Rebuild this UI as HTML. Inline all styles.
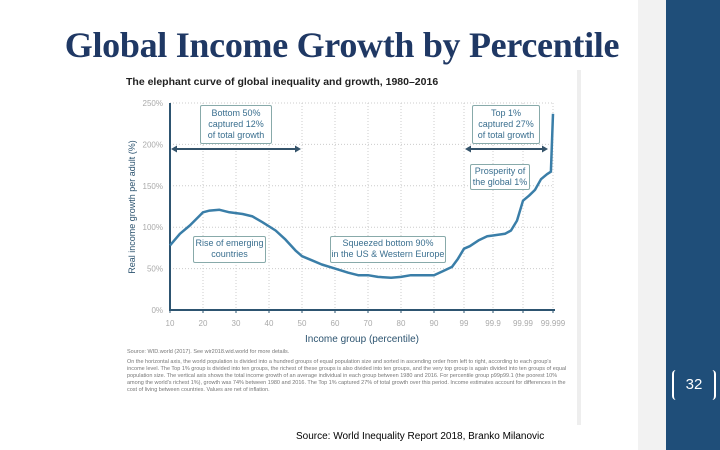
<!DOCTYPE html>
<html><head><meta charset="utf-8"><style>
body{margin:0;width:720px;height:450px;overflow:hidden;background:#fff;font-family:"Liberation Sans",sans-serif;position:relative}
.t{position:absolute;left:0;width:684px;top:24px;text-align:center;font-family:"Liberation Serif",serif;font-weight:bold;font-size:36px;color:#1f3864;letter-spacing:-0.3px}
.box{position:absolute;border:1px solid #8aa;border-radius:2px;font-size:9px;color:#3a6f8f;text-align:center;line-height:11px;background:#fff}
</style></head><body>
<div class="t">Global Income Growth by Percentile</div>
<div style="position:absolute;left:638px;top:0;width:28px;height:450px;background:#f2f2f2"></div>
<div style="position:absolute;left:666px;top:0;width:54px;height:450px;background:#1f4e79"></div>
<div style="position:absolute;left:672px;top:370px;width:44px;height:30px;color:#fff;font-size:15px;text-align:center;line-height:30px;border-left:2px solid #fff;border-right:2px solid #fff;box-sizing:border-box;border-radius:4px">32</div>
<div style="position:absolute;left:120px;top:70px;width:457px;height:355px;background:#fff;box-shadow:4px 0 0 #eee"></div>
<svg id="c" width="720" height="450" style="position:absolute;left:0;top:0"></svg>
<div style="position:absolute;left:126px;top:76px;font-size:10.5px;font-weight:bold;color:#222">The elephant curve of global inequality and growth, 1980–2016</div>
<div class="box" style="left:200px;top:105px;width:70px;height:35px;padding-top:2px">Bottom 50%<br>captured 12%<br>of total growth</div>
<div class="box" style="left:472px;top:105px;width:66px;height:35px;padding-top:2px">Top 1%<br>captured 27%<br>of total growth</div>
<div class="box" style="left:470px;top:164px;width:58px;height:23px;padding-top:1px">Prosperity of<br>the global 1%</div>
<div class="box" style="left:193px;top:236px;width:71px;height:24px;padding-top:1px">Rise of emerging<br>countries</div>
<div class="box" style="left:330px;top:236px;width:114px;height:24px;padding-top:1px">Squeezed bottom 90%<br>in the US &amp; Western Europe</div>
<div style="position:absolute;left:127px;top:349px;width:440px;font-size:5.5px;line-height:7px;color:#777">Source: WID.world (2017). See wir2018.wid.world for more details.<br><span style="display:block;margin-top:3px">On the horizontal axis, the world population is divided into a hundred groups of equal population size and sorted in ascending order from left to right, according to each group's income level. The Top 1% group is divided into ten groups, the richest of these groups is also divided into ten groups, and the very top group is again divided into ten groups of equal population size. The vertical axis shows the total income growth of an average individual in each group between 1980 and 2016. For percentile group p99p99.1 (the poorest 10% among the world's richest 1%), growth was 74% between 1980 and 2016. The Top 1% captured 27% of total growth over this period. Income estimates account for differences in the cost of living between countries. Values are net of inflation.</span></div>
<div style="position:absolute;left:296px;top:431px;font-size:10px;color:#000">Source: World Inequality Report 2018, Branko Milanovic</div>
<script>
const tickLabels=["10","20","30","40","50","60","70","80","90","99","99.9","99.99","99.999"];
const yTicks=[0,50,100,150,200,250];
const curveT=[0,0.3,0.6,0.9,1.0,1.2,1.5,1.8,2.2,2.5,2.8,3.2,3.5,3.8,4.0,4.3,4.6,5.0,5.4,5.7,6.0,6.3,6.7,7.0,7.3,8.0,8.3,8.6,8.8,9.0,9.2,9.5,9.8,10.0,10.4,10.6,10.8,11.0,11.2,11.4,11.6,11.8,11.93,12.0];
const curveV=[78,92,102,114,118,120,121,118,116,113,106,96,85,72,65,60,55,50,45,42,42,40,39,40,42,42,47,52,62,74,77,84,89,90,92,96,108,132,138,145,158,164,167,237];
const tickPx=[170,203,236,269,302,335,368,401,434,464,493,523,553];
function X(t){const i=Math.min(Math.floor(t),11);return tickPx[i]+(t-i)*(tickPx[i+1]-tickPx[i]);}
function Y(v){return 310-v*0.828;}
const s=document.getElementById('c'),NS='http://www.w3.org/2000/svg';
function add(tag,a,txt){const e=document.createElementNS(NS,tag);for(const k in a)e.setAttribute(k,a[k]);if(txt!=null)e.textContent=txt;s.appendChild(e);return e;}
yTicks.forEach(v=>{
const g=add('line',{x1:170,x2:553,y1:Y(v),y2:Y(v),stroke:'#ccc','stroke-dasharray':'1,2'});


const l=add('text',{x:163,y:Y(v)+3,'font-size':8,fill:'#aaa','text-anchor':'end'},v+'%');


});
tickLabels.forEach((lab,i)=>{
const g=add('line',{x1:X(i),x2:X(i),y1:Y(250),y2:310,stroke:'#ccc','stroke-dasharray':'1,2'});


const tk=add('line',{x1:X(i),x2:X(i),y1:310,y2:313,stroke:'#2d5470','stroke-width':1});


const l=add('text',{x:X(i),y:326,'font-size':8,fill:'#aaa','text-anchor':'middle'},lab);


});
const ax=add('line',{x1:170,x2:555,y1:310,y2:310,stroke:'#2d5470','stroke-width':2});


const ay=add('line',{x1:170,x2:170,y1:Y(250),y2:311,stroke:'#2d5470','stroke-width':2});


const xt=add('text',{x:362,y:342,'font-size':10,fill:'#2d5470','text-anchor':'middle'},'Income group (percentile)');


const yt=add('text',{x:0,y:0,'font-size':9,fill:'#2d5470','text-anchor':'middle',transform:'translate(135,207) rotate(-90)'},'Real income growth per adult (%)');


let d='';curveT.forEach((t,i)=>{d+=(i?'L':'M')+X(t).toFixed(1)+','+Y(curveV[i]).toFixed(1);});
const p=add('path',{d:d,fill:'none',stroke:'#3a7ea8','stroke-width':2.5,'stroke-linejoin':'round'});


function arrow(x1,x2,name){
const l=add('line',{x1:x1+4,x2:x2-4,y1:149,y2:149,stroke:'#34536a','stroke-width':2});


const a=add('path',{d:`M${x1},149 l6,-3.5 v7z M${x2},149 l-6,-3.5 v7z`,fill:'#34536a'});


}
arrow(171,301,'bottom50-arrow');arrow(465,548,'top1-arrow');
</script>
</body></html>
